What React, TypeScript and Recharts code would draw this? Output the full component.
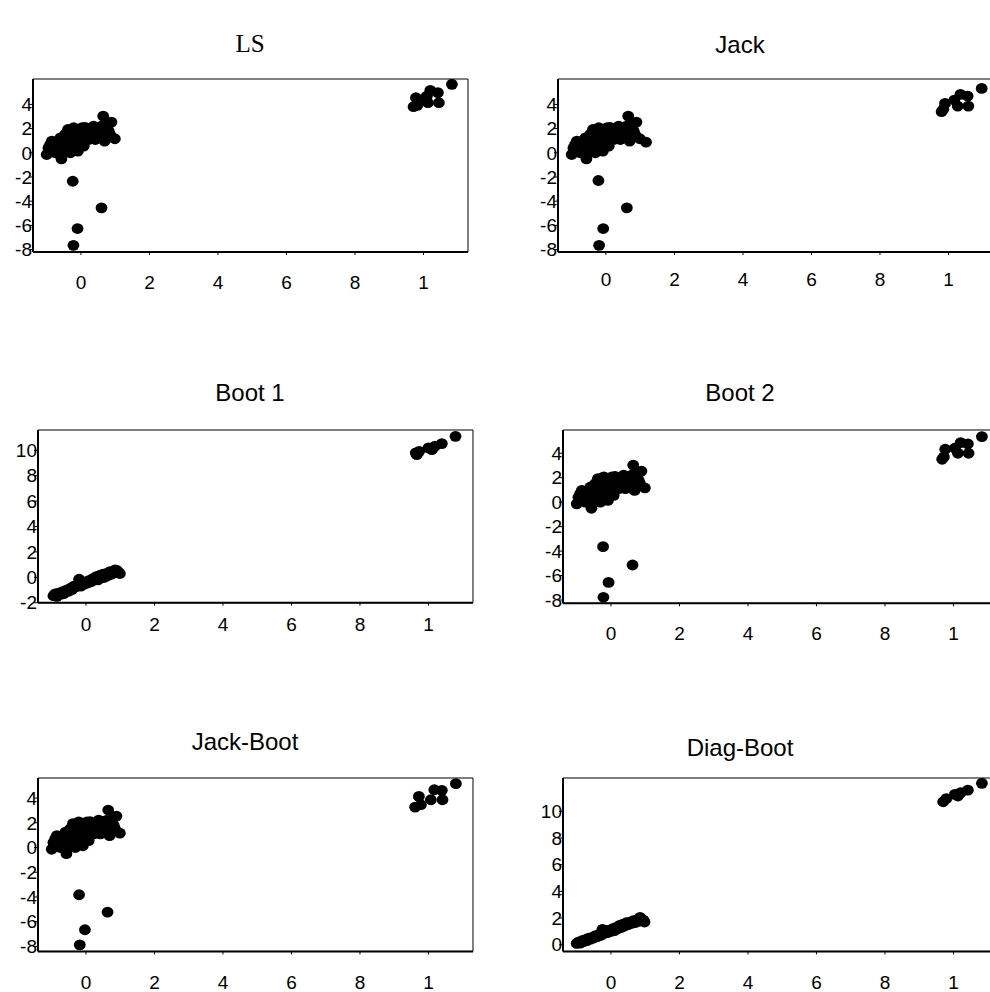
import React from 'react';
import { ScatterChart, Scatter, XAxis, YAxis, ReferenceArea } from 'recharts';

type Pt = { x: number; y: number };
const p = (x: number, y: number): Pt => ({ x, y });

const xTicks = [0, 2, 4, 6, 8, 10];
const yTicksWide = [-8, -6, -4, -2, 0, 2, 4];
const yTicksBoot1 = [-2, 0, 2, 4, 6, 8, 10];
const yTicksDiag = [0, 2, 4, 6, 8, 10];

// main cloud near the origin (LS, Jack, Boot 2, Jack-Boot look the same)
const mainCloud: Pt[] = [
  p(-1.0, -0.14), p(-0.85, 0.96), p(-0.8, 0.27), p(-0.7, 0.55), p(-0.6, 1.24),
  p(-0.57, -0.5), p(-0.51, 0.14), p(-0.46, 0.69), p(-0.38, 1.93), p(-0.36, 0.96),
  p(-0.31, 0.0), p(-0.26, 1.52), p(-0.21, 0.55), p(-0.16, 1.1), p(-0.12, 1.79),
  p(-0.09, 0.14), p(-0.07, 0.96), p(-0.02, 1.38), p(0.03, 2.07), p(0.08, 0.55),
  p(0.11, 1.24), p(0.15, 1.79), p(0.23, 1.1), p(0.28, 1.52), p(0.37, 2.21),
  p(0.42, 1.1), p(0.47, 1.65), p(0.52, 1.38), p(0.57, 1.79), p(0.65, 3.03),
  p(0.69, 0.96), p(0.72, 2.07), p(0.81, 1.79), p(0.89, 2.54), p(0.99, 1.16),
  p(-0.9, 0.69), p(-0.75, 0.0), p(-0.65, 0.96), p(-0.46, 1.52), p(-0.21, 2.07),
  p(0.18, 1.93), p(0.32, 1.24), p(0.62, 1.52),
  p(-0.95, 0.4), p(-0.8, 0.9), p(-0.55, 0.6), p(-0.4, 1.2), p(-0.3, 0.5),
  p(-0.25, 1.0), p(-0.1, 1.5), p(0.0, 0.9), p(0.05, 1.7), p(0.2, 1.5),
  p(0.35, 1.6), p(0.5, 2.0), p(0.6, 2.2), p(0.78, 2.3), p(0.85, 1.5),
  p(-0.2, 1.8), p(0.12, 2.1),
];

const lsOut: Pt[] = [p(-0.24, -2.35), p(0.6, -4.55), p(-0.1, -6.26), p(-0.22, -7.65)];
const lsFar: Pt[] = [
  p(9.71, 3.81), p(9.78, 4.55), p(9.82, 3.92), p(10.05, 4.55), p(10.13, 4.14),
  p(10.2, 5.16), p(10.42, 4.97), p(10.45, 4.14), p(10.83, 5.66), p(10.1, 4.69),
];

const jackOut: Pt[] = [p(-0.22, -2.29), p(0.61, -4.55), p(-0.08, -6.26), p(-0.2, -7.65), p(1.17, 0.88)];
const jackFar: Pt[] = [
  p(9.8, 3.4), p(9.9, 4.08), p(10.17, 4.36), p(10.27, 3.86), p(10.35, 4.83),
  p(10.56, 4.69), p(10.58, 3.86), p(10.97, 5.32), p(9.85, 3.6),
];

const boot1Line: Pt[] = [
  p(-0.95, -1.45), p(-0.9, -1.3), p(-0.85, -1.5), p(-0.8, -1.25), p(-0.75, -1.35),
  p(-0.7, -1.15), p(-0.65, -1.3), p(-0.6, -1.05), p(-0.55, -1.0), p(-0.5, -1.1),
  p(-0.45, -0.85), p(-0.4, -0.95), p(-0.35, -0.7), p(-0.3, -0.75), p(-0.25, -0.6),
  p(-0.2, -0.15), p(-0.15, -0.7), p(-0.1, -0.45), p(-0.05, -0.55), p(0.0, -0.35),
  p(0.05, -0.45), p(0.1, -0.25), p(0.15, -0.35), p(0.2, -0.1), p(0.25, -0.2),
  p(0.3, 0.05), p(0.35, -0.2), p(0.4, 0.15), p(0.45, -0.05), p(0.5, 0.25),
  p(0.55, 0.0), p(0.6, 0.3), p(0.65, 0.15), p(0.7, 0.45), p(0.75, 0.25),
  p(0.8, 0.45), p(0.85, 0.58), p(0.9, 0.55), p(0.95, 0.4), p(0.99, 0.3),
];
const boot1Far: Pt[] = [
  p(9.66, 9.66), p(9.73, 9.92), p(9.63, 9.8), p(10.0, 10.19), p(10.1, 10.05),
  p(10.19, 10.32), p(10.39, 10.53), p(10.79, 11.1),
];

const boot2Out: Pt[] = [p(-0.23, -3.64), p(0.63, -5.14), p(-0.07, -6.56), p(-0.22, -7.78)];
const boot2Far: Pt[] = [
  p(9.67, 3.51), p(9.76, 4.33), p(10.04, 4.41), p(10.13, 4.0), p(10.21, 4.87),
  p(10.42, 4.76), p(10.44, 4.0), p(10.83, 5.36), p(9.72, 3.7),
];

const jackBootOut: Pt[] = [p(-0.2, -3.82), p(0.63, -5.22), p(-0.03, -6.65), p(-0.18, -7.87)];
const jackBootFar: Pt[] = [
  p(9.61, 3.27), p(9.72, 4.13), p(9.78, 3.46), p(10.07, 3.86), p(10.17, 4.67),
  p(10.39, 4.62), p(10.41, 3.86), p(10.8, 5.16),
];

const diagLine: Pt[] = [
  p(-1.0, 0.1), p(-0.95, 0.2), p(-0.9, 0.12), p(-0.85, 0.3), p(-0.8, 0.22),
  p(-0.75, 0.38), p(-0.7, 0.3), p(-0.65, 0.5), p(-0.6, 0.42), p(-0.55, 0.55),
  p(-0.5, 0.5), p(-0.45, 0.68), p(-0.4, 0.6), p(-0.35, 0.75), p(-0.3, 0.7),
  p(-0.25, 1.15), p(-0.2, 0.85), p(-0.15, 1.05), p(-0.1, 0.9), p(-0.05, 1.1),
  p(0.0, 1.0), p(0.05, 1.2), p(0.1, 1.05), p(0.15, 1.3), p(0.2, 1.2),
  p(0.25, 1.45), p(0.3, 1.3), p(0.35, 1.55), p(0.4, 1.4), p(0.45, 1.65),
  p(0.5, 1.5), p(0.55, 1.7), p(0.6, 1.6), p(0.65, 1.8), p(0.7, 1.65),
  p(0.75, 1.85), p(0.8, 1.75), p(0.85, 2.05), p(0.9, 1.9), p(0.95, 1.85), p(0.98, 1.7),
];
const diagFar: Pt[] = [
  p(9.7, 10.72), p(9.79, 10.95), p(10.04, 11.27), p(10.13, 11.15), p(10.21, 11.4),
  p(10.42, 11.59), p(10.83, 12.1),
];

const SANS = '"Liberation Sans", Arial, sans-serif';
const SERIF = '"Liberation Serif", "Times New Roman", serif';
const X_DOMAIN: [number, number] = [-1.4, 11.3];

const Dot = (props: any) => {
  const { cx, cy } = props;
  if (cx == null || cy == null) return null;
  return <ellipse cx={cx} cy={cy} rx={5.9} ry={5.4} fill="#000" />;
};

type PanelProps = {
  title: string;
  serif?: boolean;
  titleX: number;
  titleY: number;
  plot: { left: number; top: number; right: number; bottom: number };
  yDomain: [number, number];
  yTicks: number[];
  xGap: number;
  data: Pt[];
};

function Panel({ title, serif, titleX, titleY, plot, yDomain, yTicks, xGap, data }: PanelProps) {
  const yW = 40;
  const xH = 50;
  const mTop = 10;
  const mRight = 10;
  const width = plot.right - plot.left + yW + mRight;
  const height = plot.bottom - plot.top + mTop + xH;
  return (
    <>
      <div
        style={{
          position: 'absolute',
          left: titleX - 150,
          top: titleY - 20,
          width: 300,
          height: 40,
          lineHeight: '40px',
          textAlign: 'center',
          fontFamily: serif ? SERIF : SANS,
          fontSize: serif ? 25 : 24,
          color: '#000',
        }}
      >
        {title}
      </div>
      <div style={{ position: 'absolute', left: plot.left - yW, top: plot.top - mTop }}>
        <ScatterChart width={width} height={height} margin={{ top: mTop, right: mRight, bottom: 0, left: 0 }}>
          <ReferenceArea
            x1={X_DOMAIN[0]}
            x2={X_DOMAIN[1]}
            y1={yDomain[0]}
            y2={yDomain[1]}
            fill="none"
            stroke="#000"
            strokeWidth={1}
            ifOverflow="visible"
          />
          <XAxis
            type="number"
            dataKey="x"
            domain={X_DOMAIN}
            ticks={xTicks}
            interval={0}
            allowDataOverflow
            height={xH}
            axisLine={{ stroke: '#000', strokeWidth: 2 }}
            tickLine={{ stroke: '#000' }}
            tickSize={3}
            tickMargin={xGap}
            tickFormatter={(v: number) => String(v).charAt(0)}
            tick={{ fontSize: 19, fill: '#000', fontFamily: SANS }}
          />
          <YAxis
            type="number"
            dataKey="y"
            domain={yDomain}
            ticks={yTicks}
            interval={0}
            allowDataOverflow
            width={yW}
            axisLine={{ stroke: '#000', strokeWidth: 2 }}
            tickLine={{ stroke: '#000' }}
            tickSize={4}
            tickMargin={-3}
            tick={{ fontSize: 19, fill: '#000', fontFamily: SANS }}
          />
          <Scatter data={data} shape={Dot} isAnimationActive={false} />
        </ScatterChart>
      </div>
    </>
  );
}

export default function App() {
  return (
    <div
      style={{
        position: 'absolute',
        left: 0,
        top: 0,
        width: 990,
        height: 992,
        overflow: 'hidden',
        background: '#fff',
      }}
    >
      <Panel
        title="LS"
        serif
        titleX={250}
        titleY={44}
        plot={{ left: 33.3, top: 79.3, right: 468.3, bottom: 252.3 }}
        yDomain={[-8.2, 6.1]}
        yTicks={yTicksWide}
        xGap={21}
        data={[...mainCloud, ...lsOut, ...lsFar]}
      />
      <Panel
        title="Jack"
        titleX={740}
        titleY={45}
        plot={{ left: 558.3, top: 79.3, right: 993.3, bottom: 252.3 }}
        yDomain={[-8.2, 6.1]}
        yTicks={yTicksWide}
        xGap={18}
        data={[...mainCloud, ...jackOut, ...jackFar]}
      />
      <Panel
        title="Boot 1"
        titleX={250}
        titleY={393}
        plot={{ left: 38.3, top: 430, right: 473.3, bottom: 602.7 }}
        yDomain={[-2, 11.6]}
        yTicks={yTicksBoot1}
        xGap={12}
        data={[...boot1Line, ...boot1Far]}
      />
      <Panel
        title="Boot 2"
        titleX={740}
        titleY={393}
        plot={{ left: 563.3, top: 430, right: 998.3, bottom: 603.3 }}
        yDomain={[-8.27, 5.9]}
        yTicks={yTicksWide}
        xGap={20}
        data={[...mainCloud, ...boot2Out, ...boot2Far]}
      />
      <Panel
        title="Jack-Boot"
        titleX={245}
        titleY={742}
        plot={{ left: 38.3, top: 778.3, right: 473.3, bottom: 951.7 }}
        yDomain={[-8.4, 5.62]}
        yTicks={yTicksWide}
        xGap={21}
        data={[...mainCloud, ...jackBootOut, ...jackBootFar]}
      />
      <Panel
        title="Diag-Boot"
        titleX={740}
        titleY={748}
        plot={{ left: 563.3, top: 778.3, right: 998.3, bottom: 951.7 }}
        yDomain={[-0.5, 12.5]}
        yTicks={yTicksDiag}
        xGap={21}
        data={[...diagLine, ...diagFar]}
      />
    </div>
  );
}
